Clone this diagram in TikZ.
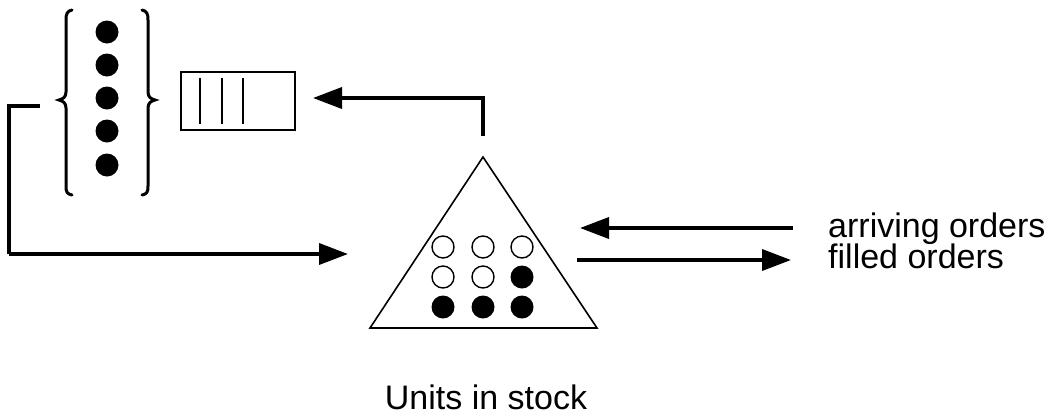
\documentclass[tikz,border=0pt]{standalone}
\usepackage{fontspec}
\setmainfont{Liberation Sans}
\usetikzlibrary{arrows.meta}
\begin{document}
\begin{tikzpicture}[x=1pt,y=-1pt,
  flow/.style={line width=3.6pt,-{Triangle[length=29pt,width=21pt]}},
  thin/.style={line width=1.6pt},
  dot/.style={circle,fill=black,minimum size=23pt,inner sep=0pt},
  odot/.style={circle,draw=black,line width=1.4pt,fill=white,minimum size=22pt,inner sep=0pt},
  lbl/.style={font=\fontsize{34}{40}\selectfont,inner sep=0pt}]
\useasboundingbox (0,0) rectangle (1052,416);
% brace group
\draw[line width=3pt,line cap=round] (72,10) .. controls (67,11) and (66,14) .. (66,20) -- (66,92) .. controls (66,97) and (63,99) .. (59,100) .. controls (63,101) and (66,103) .. (66,108) -- (66,186) .. controls (66,192) and (67,194) .. (72,195);
\draw[line width=3pt,line cap=round] (142,10) .. controls (147,11) and (148,14) .. (148,20) -- (148,92) .. controls (148,97) and (151,99) .. (155,100) .. controls (151,101) and (148,103) .. (148,108) -- (148,186) .. controls (148,192) and (147,194) .. (142,195);
\foreach \i/\y in {1/32,2/65,3/98,4/131,5/165} \node[dot] (b\i) at (107,\y) {};
% queue
\node[draw,thin,minimum width=114pt,minimum height=58pt,inner sep=0pt] (q) at (238,101) {};
\foreach \x in {200,222,243} \draw[line width=1.8pt] (\x,78) -- (\x,124);
% triangle
\coordinate (apex) at (483,157);
\coordinate (bl) at (370,328);
\coordinate (br) at (597,328);
\draw[thin,line join=miter] (apex) -- (bl) -- (br) -- cycle;
\foreach \c/\x in {1/443,2/483,3/522} {
  \node[odot] (r1\c) at (\x,247) {};
}
\node[odot] (r21) at (443,277) {};
\node[odot] (r22) at (483,277) {};
\node[dot] (r23) at (522,277) {};
\foreach \c/\x in {1/443,2/483,3/522} \node[dot] (r3\c) at (\x,307) {};
% connectors
\coordinate (fbS) at (40,106);
\coordinate (inT) at (348,254);
\draw[flow,-] (fbS) -- (9,106) -- (9,254);
\draw[flow] (9,254) -- (inT);
\coordinate (topS) at (483,136);
\coordinate (topT) at (313,98);
\draw[flow] (topS) -- (483,98) -- (topT);
% order arrows
\node[lbl,anchor=base west] (arr) at (828,237) {arriving orders};
\node[lbl,anchor=base west] (fil) at (828,268) {filled orders};
\coordinate (a1) at (793,228);
\coordinate (a2) at (580,228);
\draw[flow] (a1) -- (a2);
\coordinate (f1) at (577,260);
\coordinate (f2) at (791,260);
\draw[flow] (f1) -- (f2);
\node[lbl,anchor=base] (units) at (486,409) {Units in stock};
\end{tikzpicture}
\end{document}
